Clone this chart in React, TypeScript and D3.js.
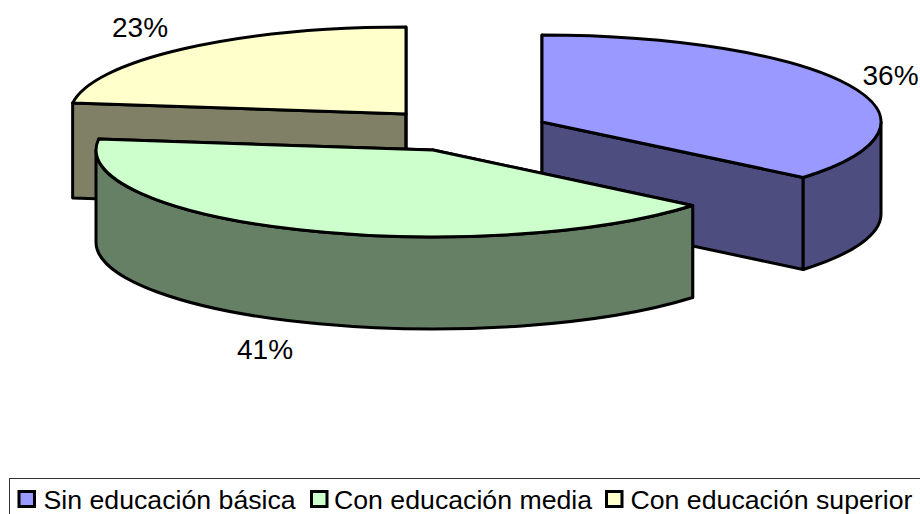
import * as d3 from "d3";

const categories = ["Sin educación básica", "Con educación media", "Con educación superior"];
const shares = [36, 41, 23];
const topColors = ["#9999ff", "#ccffcc", "#ffffcc"];
const sideColors = ["#4d4d80", "#668066", "#808066"];

const width = 920;
const height = 514;
const radiiX = [339, 337, 336];
const ry = 87;
const depths = [92, 92, 95];
// each slice is pulled away from the pie centre on its own
const centers: [number, number][] = [[542, 122], [433, 150], [406, 114]];
const labelPos: [number, number][] = [[890.5, 85], [265, 359], [140, 37]];
const legendSwatchX = [19, 311.5, 606.5];
const legendTextX = [43.5, 334, 630.5];

const pie = d3.pie<number>().sort(null).value((d) => d);
const slices = pie(shares);

function pt(c: [number, number], rx: number, a: number, dy = 0): [number, number] {
  return [c[0] + rx * Math.sin(a), c[1] - ry * Math.cos(a) + dy];
}

// elliptical arc from a0 to a1, clockwise on screen
function arcTo(c: [number, number], rx: number, a0: number, a1: number, dy = 0, sweep = 1) {
  const [x, y] = pt(c, rx, a1, dy);
  const large = Math.abs(a1 - a0) > Math.PI ? 1 : 0;
  return `A${rx},${ry} 0 ${large} ${sweep} ${x},${y}`;
}

function topPath(c: [number, number], rx: number, a0: number, a1: number) {
  const p0 = pt(c, rx, a0);
  return `M${c[0]},${c[1]}L${p0[0]},${p0[1]}${arcTo(c, rx, a0, a1)}Z`;
}

function cutFace(c: [number, number], rx: number, a: number, depth: number) {
  const p = pt(c, rx, a);
  return `M${c[0]},${c[1]}L${p[0]},${p[1]}L${p[0]},${p[1] + depth}L${c[0]},${c[1] + depth}Z`;
}

// outer wall, only where the rim faces the viewer (90deg to 270deg)
function wallPath(c: [number, number], rx: number, a0: number, a1: number, depth: number) {
  const s = Math.max(a0, Math.PI / 2);
  const e = Math.min(a1, (3 * Math.PI) / 2);
  if (e <= s) return null;
  const p0 = pt(c, rx, s);
  const p1 = pt(c, rx, e);
  return (
    `M${p0[0]},${p0[1]}${arcTo(c, rx, s, e)}L${p1[0]},${p1[1] + depth}` +
    arcTo(c, rx, e, s, depth, 0) +
    "Z"
  );
}

const drawOrder = [2, 0, 1];

export default function App() {
  return (
    <svg
      width={width}
      height={height}
      style={{ position: "absolute", left: 0, top: 0 }}
      fontFamily="'Liberation Sans', Arial, sans-serif"
    >
      <rect width={width} height={height} fill="#fff" />
      {drawOrder.map((i) => {
        const s = slices[i];
        const c = centers[i];
        const rx = radiiX[i];
        const depth = depths[i];
        const wall = wallPath(c, rx, s.startAngle, s.endAngle, depth);
        return (
          <g key={i} stroke="#000" strokeWidth={3} strokeLinejoin="round">
            <path d={cutFace(c, rx, s.startAngle, depth)} fill={sideColors[i]} />
            <path d={cutFace(c, rx, s.endAngle, depth)} fill={sideColors[i]} />
            {wall && <path d={wall} fill={sideColors[i]} />}
            <path d={topPath(c, rx, s.startAngle, s.endAngle)} fill={topColors[i]} />
          </g>
        );
      })}
      {shares.map((d, i) => (
        <text key={i} x={labelPos[i][0]} y={labelPos[i][1]} fontSize={28} textAnchor="middle" fill="#000">
          {d}%
        </text>
      ))}
      <rect x={9.5} y={478.5} width={930} height={60} fill="#fff" stroke="#333" strokeWidth={1} />
      {categories.map((d, i) => (
        <g key={d}>
          <rect x={legendSwatchX[i]} y={491.5} width={15.5} height={15} fill={topColors[i]} stroke="#000" strokeWidth={3} />
          <text x={legendTextX[i]} y={509} fontSize={26.7} fill="#000">
            {d}
          </text>
        </g>
      ))}
    </svg>
  );
}
